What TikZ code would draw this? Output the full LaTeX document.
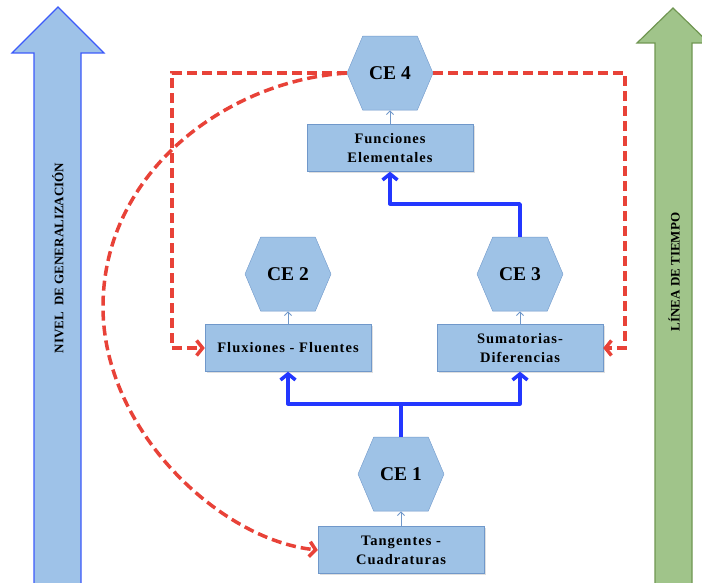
\documentclass[tikz,border=0pt]{standalone}
\usepackage{fontspec}
\setmainfont{Liberation Serif}
\newfontfamily\spacedfont{Liberation Serif}[LetterSpace=7]
\usetikzlibrary{shapes.symbols,arrows.meta,positioning,shadows}

\definecolor{boxblue}{RGB}{158,194,230}
\definecolor{boxline}{RGB}{112,152,202}
\definecolor{linkblue}{RGB}{35,55,255}
\definecolor{linkred}{RGB}{232,66,56}
\definecolor{levelfill}{RGB}{158,194,232}
\definecolor{levelline}{RGB}{60,90,250}
\definecolor{timefill}{RGB}{160,196,138}
\definecolor{timeline}{RGB}{112,150,82}

\begin{document}
\begin{tikzpicture}[x=1pt, y=-1pt,
	concept/.style={draw=boxline, fill=boxblue, rectangle, minimum width=166pt, minimum height=47pt, align=center, font=\spacedfont\fontsize{14.5}{19}\selectfont\bfseries, drop shadow={shadow xshift=1.5pt, shadow yshift=-1.5pt, opacity=0.25}},
	stage/.style={draw=boxline, fill=boxblue, signal, signal to=west and east, signal pointer angle=134, minimum width=86pt, minimum height=74pt, inner sep=0pt, font=\fontsize{19.5}{22}\selectfont\bfseries},
	up/.style={draw=boxline, line width=1pt, -{Straight Barb[length=3.5pt,width=7pt]}},
	link/.style={draw=linkblue, line width=3.5pt, line join=round, -{Straight Barb[length=6pt,width=15pt]}},
	jump/.style={draw=linkred, line width=3.5pt, dash pattern=on 10pt off 5pt, -{Straight Barb[length=6pt,width=15pt]}},
	axislabel/.style={rotate=90, font=\fontsize{13}{15}\selectfont\bfseries}
	]
	\useasboundingbox (0,0) rectangle (702,583);
	
	% big arrows at the sides
	\filldraw[fill=levelfill, draw=levelline, line width=1.2pt] (34,584) -- (34,53) -- (12,53) -- (58,7) -- (104,53) -- (81,53) -- (81,584) -- cycle;
	\filldraw[fill=timefill, draw=timeline, line width=1.2pt] (655,584) -- (655,43) -- (637,43) -- (673,8) -- (709,43) -- (692,43) -- (692,584) -- cycle;
	\node[axislabel] (nivel) at (58,258) {NIVEL\ \ DE GENERALIZACIÓN};
	\node[axislabel] (tiempo) at (674,272) {LÍNEA DE TIEMPO};
	
	\node[concept] (funciones) at (390,148) {Funciones\\Elementales};
	\node[stage, above=14pt of funciones] (ce4) {CE 4};
	\node[concept] (fluxiones) at (288,348) {Fluxiones - Fluentes};
	\node[stage, above=13pt of fluxiones] (ce2) {CE 2};
	\node[concept] (sumatorias) at (520,348) {Sumatorias-\\Diferencias};
	\node[stage, above=13pt of sumatorias] (ce3) {CE 3};
	\node[concept] (tangentes) at (401,550) {Tangentes -\\Cuadraturas};
	\node[stage, above=15pt of tangentes] (ce1) {CE 1};
	
	\draw[up] (funciones.north) -- (ce4.south);
	\draw[up] (fluxiones.north) -- (ce2.south);
	\draw[up] (sumatorias.north) -- (ce3.south);
	\draw[up] (tangentes.north) -- (ce1.south);
	
	\draw[link] (ce1.north) -- ++(0,-33) -| (fluxiones.south);
	\draw[link] (ce1.north) -- ++(0,-33) -| (sumatorias.south);
	\draw[link] (ce3.north) -- ++(0,-33) -| (funciones.south);
	
	\draw[jump] (ce4.west) -| ([xshift=-33pt]fluxiones.west) -- (fluxiones.west);
	\draw[jump] (ce4.east) -| ([xshift=22pt]sumatorias.east) -- (sumatorias.east);
	\draw[jump] (ce4.west) .. controls (230,80) and (103,170) .. (103,307) .. controls (103,430) and (220,540) .. (tangentes.west);
\end{tikzpicture}
\end{document}
